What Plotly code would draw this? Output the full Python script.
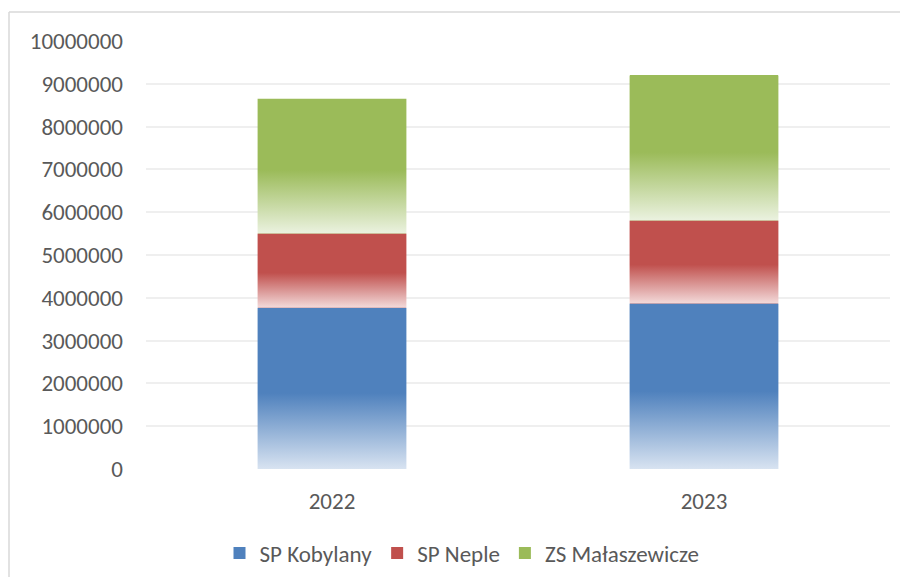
import plotly.graph_objects as go

years = ["2022", "2023"]
sp_kobylany = [3770000, 3865000]
sp_neple = [1730000, 1940000]
zs_malaszewicze = [3150000, 3390000]
y_ticks = list(range(0, 10000001, 1000000))

series = [
    ("SP Kobylany", sp_kobylany, "#4F81BD", "#d8e3f1"),
    ("SP Neple", sp_neple, "#C0504D", "#f3dada"),
    ("ZS Małaszewicze", zs_malaszewicze, "#9BBB59", "#ebf2e0"),
]

FONT = "Calibri, Carlito, Lato, sans-serif"
TXT = "#595959"
W = 0.4
xpos = list(range(len(years)))

fig = go.Figure()
for name, vals, solid, light in series:
    fig.add_trace(go.Bar(x=xpos, y=vals, name=name, width=W,
                         marker=dict(color=solid, line=dict(width=0)),
                         hoverinfo="skip"))

# gradient overlays on each stacked segment
base = [0] * len(years)
for name, vals, solid, light in series:
    for i, v in enumerate(vals):
        b = base[i]
        fig.add_trace(go.Scatter(
            x=[i - W / 2, i + W / 2, i + W / 2, i - W / 2, i - W / 2],
            y=[b, b, b + v, b + v, b],
            mode="lines", line=dict(width=0), fill="toself",
            fillgradient=dict(type="vertical",
                              colorscale=[[0, light], [0.47, solid], [1, solid]]),
            showlegend=False, hoverinfo="skip"))
        base[i] = b + v

# page body has an 8px margin on every side; size the figure to fit the window
OFF = 8
WIDTH, HEIGHT = 908 - 2 * OFF, 585 - 2 * OFF
L, T = 146 - OFF, 41 - OFF
R = WIDTH - (890 - OFF)
B = HEIGHT - (469 - OFF)
pw = WIDTH - L - R
ph = HEIGHT - T - B

bx = (9 - OFF - L) / pw          # left frame edge (paper)
by = (ph + T - (12 - OFF)) / ph  # top frame edge (paper)

fig.update_layout(
    width=WIDTH, height=HEIGHT,
    margin=dict(l=L, r=R, t=T, b=B, pad=0),
    barmode="stack",
    plot_bgcolor="white", paper_bgcolor="white",
    font=dict(family=FONT, color=TXT, size=23),
    showlegend=True,
    legend=dict(orientation="h",
                xref="container", x=(462 - OFF) / WIDTH, xanchor="center",
                yref="container", y=1 - (553 - OFF) / HEIGHT, yanchor="middle",
                font=dict(size=23, color=TXT), traceorder="normal",
                itemwidth=30),
    xaxis=dict(range=[-0.5, len(years) - 0.5], tickvals=xpos, ticktext=years,
               showgrid=False, zeroline=False, showline=False,
               ticks="", ticklabelstandoff=16, fixedrange=True),
    yaxis=dict(range=[0, 10000000], tickvals=y_ticks,
               ticktext=[str(t) for t in y_ticks],
               showgrid=True, gridcolor="#efefef", gridwidth=1.5,
               zeroline=False, showline=False, ticks="",
               ticklabelstandoff=22, fixedrange=True),
    shapes=[
        dict(type="line", xref="paper", yref="paper", x0=bx, x1=(WIDTH + 20 - L) / pw,
             y0=by, y1=by, line=dict(color="#d9d9d9", width=1.5), layer="below"),
        dict(type="line", xref="paper", yref="paper", x0=bx, x1=bx,
             y0=by, y1=-(B + 20) / ph, line=dict(color="#d9d9d9", width=1.5), layer="below"),
    ],
)

fig.write_html("out.html")
